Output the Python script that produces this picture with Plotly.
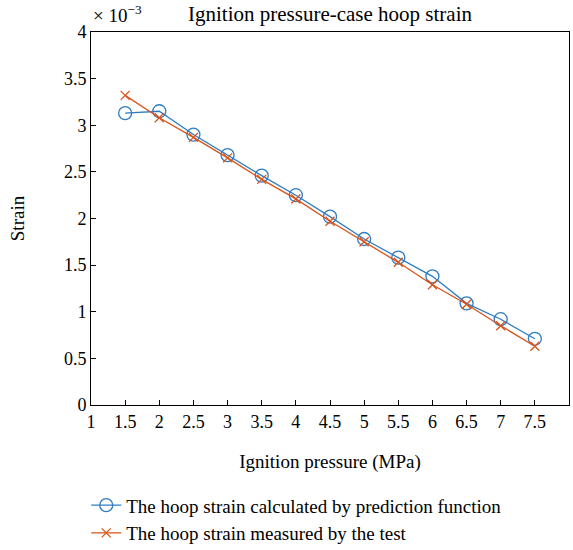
import plotly.graph_objects as go

pressure = [1.5, 2, 2.5, 3, 3.5, 4, 4.5, 5, 5.5, 6, 6.5, 7, 7.5]
# strain values in units of 1e-3
predicted = [3.13, 3.15, 2.90, 2.68, 2.46, 2.25, 2.02, 1.78, 1.58, 1.38, 1.09, 0.92, 0.71]
measured = [3.32, 3.08, 2.87, 2.65, 2.42, 2.21, 1.97, 1.75, 1.53, 1.29, 1.08, 0.85, 0.63]

x_ticks = [1, 1.5, 2, 2.5, 3, 3.5, 4, 4.5, 5, 5.5, 6, 6.5, 7, 7.5, 8]
y_ticks = [0, 0.5, 1, 1.5, 2, 2.5, 3, 3.5, 4]

blue = "#2f7cc4"
orange = "#d95319"
font_family = "Liberation Serif"

fig = go.Figure()
fig.add_trace(go.Scatter(
    x=pressure, y=predicted, mode="lines+markers",
    name="The hoop strain calculated by prediction function",
    line=dict(color=blue, width=1.3),
    marker=dict(symbol="circle-open", size=13, color=blue, line=dict(width=1.3)),
))
fig.add_trace(go.Scatter(
    x=pressure, y=measured, mode="lines+markers",
    name="The hoop strain measured by the test",
    line=dict(color=orange, width=1.3),
    marker=dict(symbol="x-thin-open", size=9, color=orange, line=dict(width=1.3, color=orange)),
))

axis_common = dict(
    showgrid=False, zeroline=False, showline=True, linecolor="black", linewidth=1,
    mirror=True, ticks="inside", ticklen=5, tickcolor="black", tickwidth=1,
    tickfont=dict(family=font_family, size=18, color="black"),
)

fig.update_layout(
    width=573, height=550,
    margin=dict(l=91, r=4, t=32, b=145, autoexpand=False),
    paper_bgcolor="white", plot_bgcolor="white",
    font=dict(family=font_family, size=19, color="black"),
    title=dict(text="Ignition pressure-case hoop strain", x=0.5, xanchor="center",
               xref="paper", y=0.976, yanchor="middle", font=dict(size=21)),
    xaxis=dict(range=[1, 8], tickvals=x_ticks, ticktext=[f"{v:g}" for v in x_ticks],
               title=dict(text="Ignition pressure (MPa)", standoff=24, font=dict(size=19)),
               **axis_common),
    yaxis=dict(range=[0, 4], tickvals=y_ticks, ticktext=[f"{v:g}" for v in y_ticks],
               title=dict(text="Strain", standoff=34, font=dict(size=19)),
               **axis_common),
    legend=dict(x=-0.01, xanchor="left", y=-0.218, yanchor="top",
                bgcolor="rgba(0,0,0,0)", font=dict(size=19), tracegroupgap=0,
                itemwidth=30),
    showlegend=True,
)
fig.add_annotation(text="× 10<sup>−3</sup>", xref="paper", yref="paper",
                   x=0, xanchor="left", y=1.0, yanchor="bottom", yshift=4,
                   showarrow=False, font=dict(size=19, family=font_family))

fig.write_html("out.html")
